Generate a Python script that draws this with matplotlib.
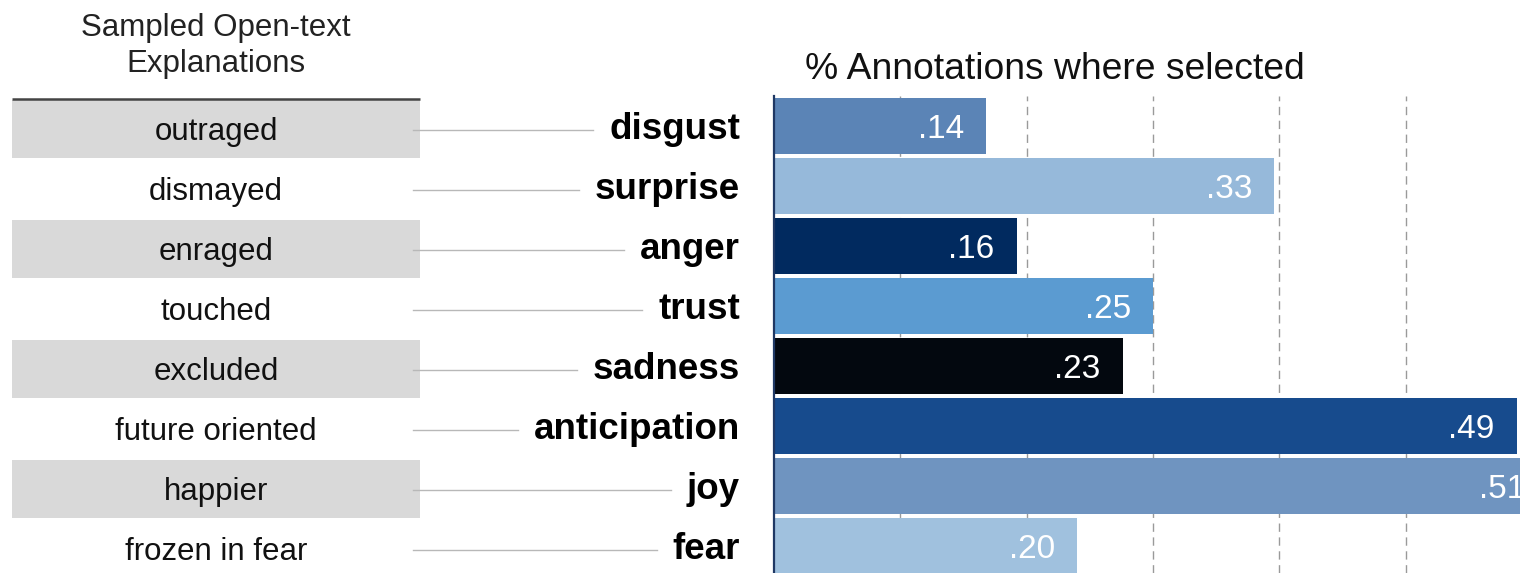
import numpy as np
import matplotlib
matplotlib.use('Agg')
import matplotlib.pyplot as plt
from matplotlib.patches import Rectangle
from matplotlib.transforms import offset_copy

plt.rcParams['font.family'] = ['Liberation Sans', 'DejaVu Sans']

# datos
emociones = ['disgust', 'surprise', 'anger', 'trust', 'sadness', 'anticipation', 'joy', 'fear']
explicaciones = ['outraged', 'dismayed', 'enraged', 'touched', 'excluded',
                 'future oriented', 'happier', 'frozen in fear']
valores = [0.14, 0.33, 0.16, 0.25, 0.23, 0.49, 0.51, 0.20]
colores = ['#5b84b6', '#96b9da', '#012a5f', '#5b9bd1', '#03080f', '#174b8d', '#6f94c0', '#a0c1de']

W, H = 1520, 573
fig = plt.figure(figsize=(W / 100, H / 100), dpi=100)

# panel de barras
ax = fig.add_axes([774 / W, 0, 746 / W, 477 / H])
y = np.arange(len(emociones))
ax.barh(y, valores, height=0.93, color=colores, zorder=2)
ax.set_xlim(0, 746 / 1516)
ax.set_ylim(7.45, -0.5)
ax.set_xticks(np.arange(1, 6) / 12)
ax.set_yticks([])
ax.tick_params(axis='x', length=0, labelbottom=False)
ax.grid(axis='x', color='#9a9a9a', lw=1.0, dashes=(6, 4), zorder=0)
for s in ['top', 'right', 'bottom']:
    ax.spines[s].set_visible(False)
ax.spines['left'].set_color('#1f3864')
ax.spines['left'].set_linewidth(1.6)
ax.spines['left'].set_zorder(3)

# etiqueta de valor (la de .51 queda cortada en el borde, igual que el original)
tr = offset_copy(ax.transData, fig=fig, x=-22, y=0, units='dots')
for i, v in enumerate(valores):
    ax.text(v, i + 0.2, f'{v:.2f}'.lstrip('0'), transform=tr, ha='right', va='baseline',
            color='white', fontsize=24, clip_on=True, zorder=4)

fig.text(805 / W, 1 - 70 / H, '% Annotations where selected', ha='left', va='center',
         fontsize=26.8, color='#111111')

# panel izquierdo (tabla + etiquetas)
axl = fig.add_axes([0, 0, 774 / W, 1])
axl.set_xlim(0, 774)
axl.set_ylim(7.45, -2.1)
axl.axis('off')

for i in range(0, len(explicaciones), 2):
    axl.add_patch(Rectangle((12, i - 0.433), 408, 0.967, color='#d9d9d9', lw=0))
axl.plot([12, 420], [-0.45, -0.45], color='#444444', lw=1.8, solid_capstyle='butt')

axl.text(216, -1.33, 'Sampled Open-text\nExplanations', ha='center', va='center',
         fontsize=22.5, color='#222222', linespacing=1.25)

etiquetas = []
for i, (e, t) in enumerate(zip(emociones, explicaciones)):
    axl.text(216, i + 0.24, t, ha='center', va='baseline', fontsize=22.5, color='#111111')
    etiquetas.append(axl.text(740, i + 0.22, e, ha='right', va='baseline', fontsize=26.5,
                              fontweight='bold', color='black'))

fig.canvas.draw()
inv = axl.transData.inverted()
for i, txt in enumerate(etiquetas):
    bb = txt.get_window_extent()
    x_fin = inv.transform((bb.x0, 0))[0] - 16
    axl.plot([413, x_fin], [i + 0.07, i + 0.07], color='#b8b8b8', lw=1.0)

plt.savefig('out.png', dpi=100)
plt.close(fig)
